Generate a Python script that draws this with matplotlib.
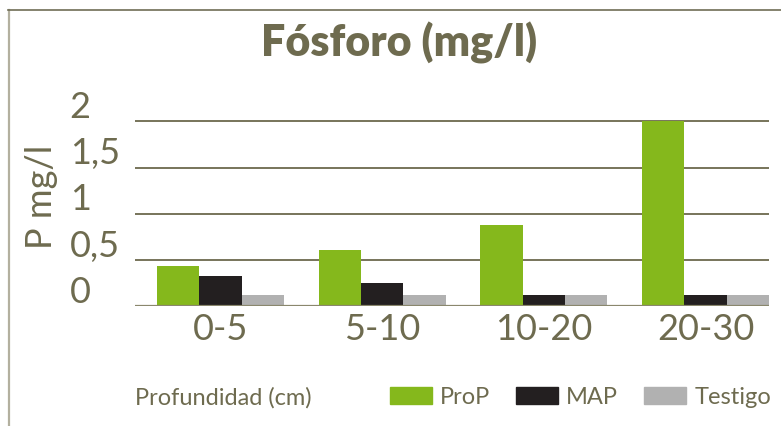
import matplotlib.pyplot as plt
import matplotlib.transforms as mtransforms
import numpy as np
from matplotlib.lines import Line2D
from matplotlib.patches import Patch

# Data
categories = ["0-5", "5-10", "10-20", "20-30"]
prop = [0.44, 0.61, 0.88, 2.0]
map_vals = [0.33, 0.25, 0.12, 0.12]
testigo = [0.12, 0.12, 0.12, 0.12]
yticks = [0, 0.5, 1, 1.5, 2]
ytick_labels = ["0", "0,5", "1", "1,5", "2"]

TXT = "#6e6b4f"
GREEN = "#85b81c"
BLACK = "#231f20"
GRAY = "#b1b1b1"
FONT = "Lato"

W, H = 781, 427
fig = plt.figure(figsize=(W / 100, H / 100), dpi=100)

# frame lines around the panel
fig.add_artist(Line2D([8.5 / W, 8.5 / W], [0, 1 - 11 / H], color="#b3b09f", lw=1.6))
fig.add_artist(Line2D([8 / W, 1], [1 - 11 / H, 1 - 11 / H], color="#6f6d55", lw=1.2))

# axes placed in pixels: x 135..769, y=0 at 307, 92.5 px per unit
ymax = 2.2
y0 = 307.3
top = y0 - ymax * 92.5
ax = fig.add_axes([135 / W, (H - y0) / H, (769 - 135) / W, (y0 - top) / H])

x = np.arange(len(categories))
bw = 0.262
ax.bar(x - bw, prop, bw, color=GREEN, align="center", zorder=3)
ax.bar(x, map_vals, bw, color=BLACK, align="center", zorder=3)
ax.bar(x + bw, testigo, bw, color=GRAY, align="center", zorder=3)

ax.set_xlim(-0.53, 3.393)
ax.set_ylim(0, ymax)

for s in ax.spines.values():
    s.set_visible(False)
ax.set_yticks(yticks)
ax.yaxis.grid(True, color="#77745a", lw=1.4)
ax.set_axisbelow(True)
ax.axhline(0, color="#8a876d", lw=1.6, zorder=4)

ax.set_yticklabels(ytick_labels, fontsize=26, color=TXT, fontfamily=FONT)
ax.tick_params(axis="y", length=0, pad=47)
offset = mtransforms.ScaledTranslation(0, 0.045, fig.dpi_scale_trans)
for lab in ax.get_yticklabels():
    lab.set_horizontalalignment("left")
    lab.set_verticalalignment("baseline")
    lab.set_transform(lab.get_transform() + offset)

ax.set_xticks(x)
ax.set_xticklabels(categories, fontsize=26, color=TXT, fontfamily=FONT)
ax.tick_params(axis="x", length=0, pad=4)

# y axis label
fig.text(41 / W, 1 - 197 / H, "P mg/l", rotation=90, ha="center", va="center",
         fontsize=26, color=TXT, fontfamily=FONT)

# title
fig.text(399 / W, 1 - 43 / H, "Fósforo (mg/l)", ha="center", va="center",
         fontsize=31, color=TXT, fontfamily=FONT, fontweight="heavy")

# bottom legend
fig.text(135 / W, 1 - 398 / H, "Profundidad (cm)", ha="left", va="center",
         fontsize=17, color=TXT, fontfamily=FONT)
handles = [Patch(color=GREEN), Patch(color=BLACK), Patch(color=GRAY)]
fig.legend(handles, ["ProP", "MAP", "Testigo"], loc="center left",
           bbox_to_anchor=(390 / W, 1 - 398 / H), ncol=3, frameon=False,
           borderpad=0, borderaxespad=0,
           handlelength=1.78, handleheight=0.76, handletextpad=0.34,
           columnspacing=1.1, prop={"family": FONT, "size": 17},
           labelcolor=TXT)

fig.savefig("out.png", dpi=100)
